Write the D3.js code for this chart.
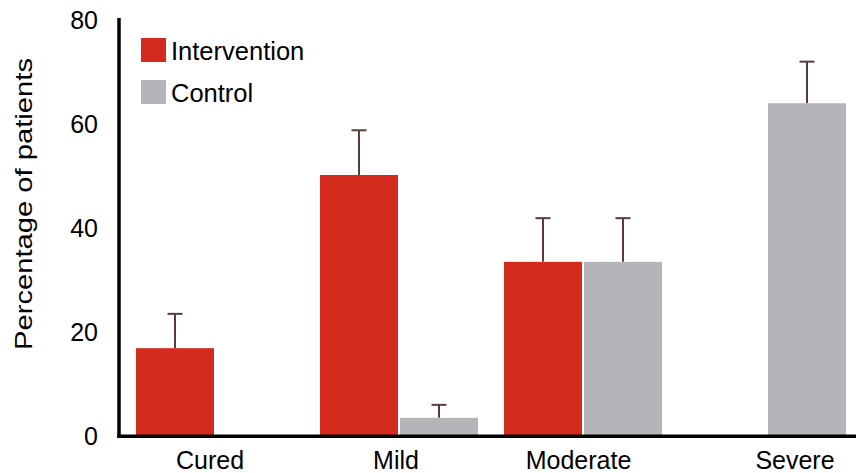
<!DOCTYPE html>
<html>
<head>
<meta charset="utf-8">
<script src="https://cdn.jsdelivr.net/npm/d3@7/dist/d3.min.js"></script>
<style>
  html, body { margin: 0; padding: 0; background: #ffffff; }
  svg { display: block; font-family: "Liberation Sans", Arial, Helvetica, sans-serif; }
</style>
</head>
<body>
<svg id="chart" width="856" height="473"></svg>
<script>
// Outcome categories and the two study arms
const categories = ["Cured", "Mild", "Moderate", "Severe"];
const groups = ["Intervention", "Control"];

// Percentage of patients per category (null = no bar)
const interventionValues = [16.7, 50.0, 33.3, null];
const controlValues = [null, 3.3, 33.3, 63.8];

// Upper error (added on top of each bar)
const interventionErrors = [6.6, 8.6, 8.4, null];
const controlErrors = [null, 2.5, 8.4, 8.0];

const yTicks = [0, 20, 40, 60, 80];

const colors = { Intervention: "#d52b1f", Control: "#b5b4b8" };
const errorColor = "#5c3b3b";

const svg = d3.select("#chart");

// Scales
const x0 = d3.scaleBand()
  .domain(categories)
  .range([123, 859])
  .paddingInner(26 / 184)
  .paddingOuter(13 / 184);

const x1 = d3.scaleBand()
  .domain(groups)
  .range([0, x0.bandwidth()])
  .paddingInner(2 / 80);

const y = d3.scaleLinear().domain([0, 80]).range([435, 19]);

// Flatten to one record per bar
const bars = [];
categories.forEach((c, i) => {
  if (interventionValues[i] != null)
    bars.push({ cat: c, group: "Intervention", value: interventionValues[i], err: interventionErrors[i] });
  if (controlValues[i] != null)
    bars.push({ cat: c, group: "Control", value: controlValues[i], err: controlErrors[i] });
});

// Error bars (drawn under the bars so the stem starts at the bar top)
const capHalf = 7.5;
const eb = svg.append("g").attr("class", "errors");
bars.forEach(d => {
  const cx = x0(d.cat) + x1(d.group) + x1.bandwidth() / 2;
  eb.append("line")
    .attr("x1", cx).attr("x2", cx)
    .attr("y1", y(d.value)).attr("y2", y(d.value + d.err))
    .attr("stroke", errorColor).attr("stroke-width", 2);
  eb.append("line")
    .attr("x1", cx - capHalf).attr("x2", cx + capHalf)
    .attr("y1", y(d.value + d.err)).attr("y2", y(d.value + d.err))
    .attr("stroke", errorColor).attr("stroke-width", 2);
});

// Bars
svg.append("g").attr("class", "bars")
  .selectAll("rect")
  .data(bars)
  .join("rect")
  .attr("x", d => x0(d.cat) + x1(d.group))
  .attr("y", d => y(d.value))
  .attr("width", x1.bandwidth())
  .attr("height", d => y(0) - y(d.value))
  .attr("fill", d => colors[d.group]);

// Axis lines
svg.append("line")
  .attr("x1", 119).attr("x2", 119)
  .attr("y1", 18).attr("y2", 437.5)
  .attr("stroke", "#000").attr("stroke-width", 3.5);
svg.append("line")
  .attr("x1", 117.25).attr("x2", 856)
  .attr("y1", 436.2).attr("y2", 436.2)
  .attr("stroke", "#000").attr("stroke-width", 3.5);

// Y tick labels
svg.append("g").attr("class", "y-ticks")
  .selectAll("text")
  .data(yTicks)
  .join("text")
  .attr("x", 98)
  .attr("y", d => y(d) + 9.5)
  .attr("text-anchor", "end")
  .attr("font-size", 25)
  .attr("fill", "#000")
  .text(d => d);

// Category labels
const labelShift = { Cured: -5, Mild: -3, Moderate: -4.5, Severe: 28 };
svg.append("g").attr("class", "x-labels")
  .selectAll("text")
  .data(categories)
  .join("text")
  .attr("x", d => x0(d) + x0.bandwidth() / 2 + labelShift[d])
  .attr("y", 469)
  .attr("text-anchor", "middle")
  .attr("font-size", 25)
  .attr("fill", "#000")
  .text(d => d);

// Y axis title
svg.append("text")
  .attr("transform", "translate(32,204) rotate(-90)")
  .attr("text-anchor", "middle")
  .attr("font-size", 24)
  .attr("textLength", 292)
  .attr("lengthAdjust", "spacingAndGlyphs")
  .attr("fill", "#000")
  .text("Percentage of patients");

// Legend
const legend = svg.append("g").attr("class", "legend");
groups.forEach((g, i) => {
  const top = 38 + i * 42;
  legend.append("rect")
    .attr("x", 141).attr("y", top)
    .attr("width", 25).attr("height", 24)
    .attr("fill", colors[g]);
  legend.append("text")
    .attr("x", 171).attr("y", top + 22)
    .attr("font-size", 25.5)
    .attr("fill", "#000")
    .text(g);
});
</script>
</body>
</html>
